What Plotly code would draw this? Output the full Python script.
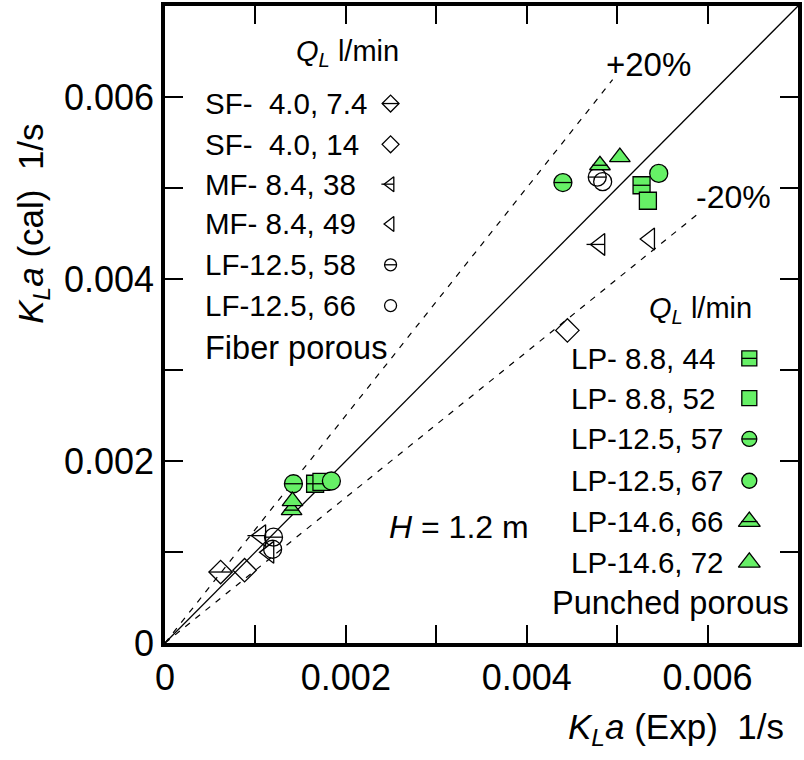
import plotly.graph_objects as go

# ---------------- data ----------------
sf74_x = [0.000615]
sf74_y = [0.00078]
sf14_x = [0.00088, 0.00445]
sf14_y = [0.00080, 0.003435]
mf38_x = [0.00106, 0.00481]
mf38_y = [0.00118, 0.00438]
mf49_x = [0.00115, 0.00536]
mf49_y = [0.000996, 0.00444]
lf58_x = [0.00120, 0.00478]
lf58_y = [0.001163, 0.00512]
lf66_x = [0.00119, 0.00484]
lf66_y = [0.00103, 0.00507]

lp44_x = [0.00166, 0.00527]
lp44_y = [0.00175, 0.00503]
lp52_x = [0.00173, 0.00534]
lp52_y = [0.00177, 0.00486]
lp57_x = [0.00142, 0.00440]
lp57_y = [0.00175, 0.00506]
lp67_x = [0.00184, 0.00546]
lp67_y = [0.00178, 0.00516]
lp66_x = [0.00140, 0.00481]
lp66_y = [0.00146, 0.00525]
lp72_x = [0.00141, 0.00503]
lp72_y = [0.00156, 0.00534]

fiber_labels = ["SF-\u00a0\u00a04.0, 7.4", "SF-\u00a0\u00a04.0, 14", "MF-\u00a08.4, 38",
                "MF-\u00a08.4, 49", "LF-12.5, 58", "LF-12.5, 66"]
punched_labels = ["LP-\u00a08.8, 44", "LP-\u00a08.8, 52", "LP-12.5, 57",
                  "LP-12.5, 67", "LP-14.6, 66", "LP-14.6, 72"]

# reference lines: y = x, +20 % and -20 %
diag_x = [0, 0.007]
diag_y = [0, 0.007]
plus20_x = [0, 0.00495]
plus20_y = [0, 0.00619]
minus20_x = [0, 0.0059]
minus20_y = [0, 0.00472]

tick_vals = [0, 0.002, 0.004, 0.006]
tick_text = ["0", "0.002", "0.004", "0.006"]

# ---------------- styling ----------------
W, H = 804, 760
L, R, T, B = 165, 802, 3, 643
PW, PH = R - L, B - T
GREEN = "#66F066"
FONT = "Liberation Sans, Arial, sans-serif"


def px(xp):
    return (xp - L) / PW


def py(yp):
    return (B - yp) / PH


fiber = [
    (sf74_x, sf74_y, "diamond", True),
    (sf14_x, sf14_y, "diamond", False),
    (mf38_x, mf38_y, "triangle-left", True),
    (mf49_x, mf49_y, "triangle-left", False),
    (lf58_x, lf58_y, "circle", True),
    (lf66_x, lf66_y, "circle", False),
]
punched = [
    (lp44_x, lp44_y, "square", True),
    (lp52_x, lp52_y, "square", False),
    (lp57_x, lp57_y, "circle", True),
    (lp67_x, lp67_y, "circle", False),
    (lp66_x, lp66_y, "triangle-up", True),
    (lp72_x, lp72_y, "triangle-up", False),
]

BAR = {
    "diamond": (-0.65, 0.65),
    "circle": (-0.5, 0.5),
    "square": (-0.5, 0.5),
    "triangle-up": (-0.4265, 0.4265),
    "triangle-left": (-0.707, 0.25),
}
DATA_SIZE = {"diamond": 18, "circle": 18, "square": 17, "triangle-up": 18, "triangle-left": 19}
LEG_SIZE_F = {"diamond": 13, "circle": 12, "triangle-left": 13}
LEG_SIZE_P = {"square": 15, "circle": 15, "triangle-up": 19}

fig = go.Figure()
shapes = []

fig.add_trace(go.Scatter(x=diag_x, y=diag_y, mode="lines",
                         line=dict(color="black", width=1.3), showlegend=False, hoverinfo="skip"))
fig.add_trace(go.Scatter(x=plus20_x, y=plus20_y, mode="lines",
                         line=dict(color="black", width=1.2, dash="6px,7px"), showlegend=False, hoverinfo="skip"))
fig.add_trace(go.Scatter(x=minus20_x, y=minus20_y, mode="lines",
                         line=dict(color="black", width=1.2, dash="6px,7px"), showlegend=False, hoverinfo="skip"))


def add_bar(xv, yv, sym, size, xref, yref):
    a, b = BAR[sym]
    shapes.append(dict(type="line", xref=xref, yref=yref, xsizemode="pixel", ysizemode="pixel",
                       xanchor=xv, yanchor=yv, x0=a * size, x1=b * size, y0=0, y1=0,
                       line=dict(color="black", width=1.3)))


def make_marker(sym, size, filled):
    if filled:
        return dict(symbol=sym, size=size, color=GREEN, line=dict(color="black", width=1.3))
    return dict(symbol=sym + "-open", size=size, color="black", line=dict(color="black", width=1.3))


for group, filled in ((fiber, False), (punched, True)):
    for xs, ys, sym, bar in group:
        size = DATA_SIZE[sym]
        fig.add_trace(go.Scatter(x=xs, y=ys, mode="markers", marker=make_marker(sym, size, filled),
                                 showlegend=False, cliponaxis=False))
        if bar:
            for xv, yv in zip(xs, ys):
                add_bar(xv, yv, sym, size, "x", "y")

# ---------------- hand made legends (symbol to the right of text) ----------------
annotations = []

fiber_rows = [101, 142, 182, 222, 263, 304]
punched_rows = [357, 397, 438, 480, 521, 562]


def text(x, y, s, size, xanchor="left", angle=0):
    annotations.append(dict(x=px(x), y=py(y), xref="paper", yref="paper", xanchor=xanchor,
                            yanchor="middle", showarrow=False, text=s, textangle=angle,
                            font=dict(family=FONT, size=size, color="black")))


def legend_block(group, labels, rows, text_x, mark_x, filled, sizes, fsize):
    for (xs, ys, sym, bar), lab, row in zip(group, labels, rows):
        size = sizes[sym]
        fig.add_trace(go.Scatter(x=[px(mark_x)], y=[py(row)], xaxis="x2", yaxis="y2", mode="markers",
                                 marker=make_marker(sym, size, filled), showlegend=False,
                                 hoverinfo="skip"))
        if bar:
            add_bar(px(mark_x), py(row), sym, size, "x2", "y2")
        text(text_x, row, lab, fsize)


legend_block(fiber, fiber_labels, fiber_rows, 203, 392, False, LEG_SIZE_F, 29.5)
legend_block(punched, punched_labels, punched_rows, 572, 753, True, LEG_SIZE_P, 29.5)

QL = "<i>Q</i><sub><i>L</i></sub> l/min"
text(402, 50, QL, 29)
annotations[-1]["xanchor"] = "right"
text(758, 308, QL, 29)
annotations[-1]["xanchor"] = "right"
text(203, 347, "Fiber porous", 32.5)
text(552, 603, "Punched porous", 32.5)
text(607, 62, "+20%", 33)
text(697, 195, "-20%", 32)
text(388, 526, "<i>H</i> = 1.2 m", 32)
text(790, 729, "<i>K</i><sub><i>L</i></sub><i>a</i> (Exp)\u00a0\u00a01/s", 35, "right")
text(32, 222, "<i>K</i><sub><i>L</i></sub><i>a</i> (cal)\u00a0\u00a01/s", 35, "center", -90)

axis_common = dict(range=[0, 0.007], tickmode="array", tickvals=tick_vals, ticktext=tick_text,
                   ticks="inside", ticklen=18, tickwidth=1.5, tickcolor="black",
                   minor=dict(ticks="inside", ticklen=18, tickwidth=1.5, tickcolor="black",
                              dtick=0.001, tick0=0, showgrid=False),
                   showline=True, linecolor="black", linewidth=3.5, mirror="ticks",
                   showgrid=False, zeroline=False,
                   tickfont=dict(family=FONT, size=36, color="black"))

fig.update_layout(
    width=W, height=H,
    margin=dict(l=L, r=W - R, t=T, b=H - B),
    paper_bgcolor="white", plot_bgcolor="white",
    xaxis=dict(**axis_common),
    yaxis=dict(**axis_common),
    xaxis2=dict(range=[0, 1], overlaying="x", visible=False, fixedrange=True),
    yaxis2=dict(range=[0, 1], overlaying="y", visible=False, fixedrange=True),
    shapes=shapes,
    annotations=annotations,
    showlegend=False,
)

fig.write_html("out.html")
